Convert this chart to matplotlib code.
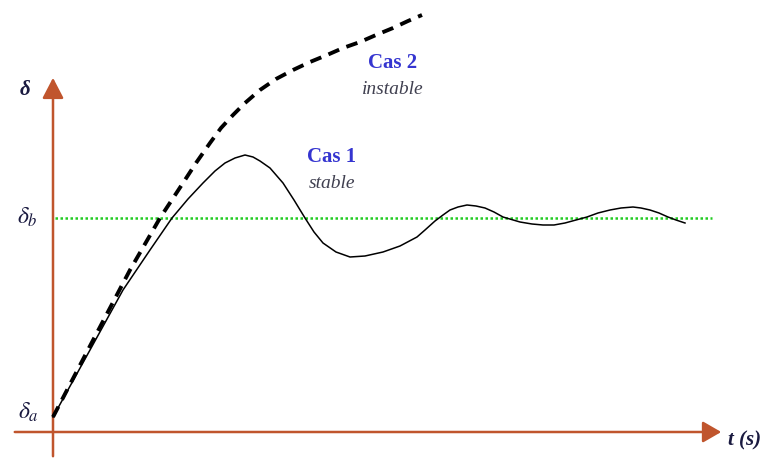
import matplotlib.pyplot as plt
from matplotlib.patches import FancyArrowPatch

plt.rcParams['mathtext.fontset'] = 'stix'

# Schematic (pixel-like units, y grows downward)
stable_t = [53, 90, 123, 150, 172, 188, 203, 215, 225, 235, 245, 253, 260, 270, 283, 294,
            305, 314, 323, 336, 350, 365, 383, 400, 417, 425, 435, 443, 450, 458, 467, 476,
            485, 494, 503, 520, 532, 543, 554, 565, 576, 587, 598, 610, 621, 633, 641, 650,
            659, 668, 676, 685]
stable_d = [417, 350, 290, 250, 218, 199, 183, 171, 163, 158, 155, 157, 161, 168, 183, 200,
            218, 232, 243, 252, 257, 256, 252, 246, 237, 230, 221, 215, 210, 207, 205, 206,
            208, 212, 217, 222, 224, 225, 225, 223, 220, 217, 213, 210, 208, 207, 208, 210,
            213, 217, 220, 223]

unstable_t = [53, 90, 130, 160, 183, 196, 210, 221, 233, 245, 260, 276, 293, 310, 327, 343,
              360, 376, 393, 408, 422]
unstable_d = [417, 346, 270, 218, 183, 163, 143, 128, 115, 103, 90, 79, 70, 62, 55, 48,
              42, 35, 28, 21, 15]

delta_b = 218
t_range = [55, 712]

axis_col = '#c0552d'
text_col = '#1a1a40'
serif = ['Liberation Serif', 'DejaVu Serif']

fig = plt.figure(figsize=(7.66, 4.59), dpi=100)
ax = fig.add_axes([0, 0, 1, 1])
ax.set_xlim(0, 766)
ax.set_ylim(459, 0)
ax.axis('off')

# axes with arrows
ax.add_patch(FancyArrowPatch((53, 459), (53, 75), arrowstyle='-|>,head_length=5,head_width=2.6',
                             color=axis_col, lw=1.8, mutation_scale=2.5))
ax.add_patch(FancyArrowPatch((12, 432), (724, 432), arrowstyle='-|>,head_length=4.5,head_width=2.6',
                             color=axis_col, lw=1.8, mutation_scale=2.5))

# equilibrium line
ax.plot(t_range, [delta_b, delta_b], color='#22cc22', lw=1.8, ls=(0, (1, 1)))

# curves
ax.plot(unstable_t, unstable_d, color='black', lw=2.8, ls=(0, (3, 2)))
ax.plot(stable_t, stable_d, color='black', lw=1.1)

# labels
ax.text(25, 90, 'δ', fontsize=15, fontweight='bold', style='italic', family=serif,
        color=text_col, ha='center', va='center')
ax.text(27, 217, r'$\delta_b$', fontsize=17, color=text_col, ha='center', va='center')
ax.text(28, 412, r'$\delta_a$', fontsize=17, color=text_col, ha='center', va='center')
ax.text(745, 440, 't (s)', fontsize=15, fontweight='bold', style='italic', family=serif,
        color=text_col, ha='center', va='center')

ax.text(393, 63, 'Cas 2', fontsize=15, fontweight='bold', family=serif, color='#3535d0',
        ha='center', va='center')
ax.text(393, 89, 'instable', fontsize=14, style='italic', family=serif, color='#404050',
        ha='center', va='center')
ax.text(332, 157, 'Cas 1', fontsize=15, fontweight='bold', family=serif, color='#3535d0',
        ha='center', va='center')
ax.text(332, 183, 'stable', fontsize=14, style='italic', family=serif, color='#404050',
        ha='center', va='center')

plt.savefig('out.png', dpi=100)
